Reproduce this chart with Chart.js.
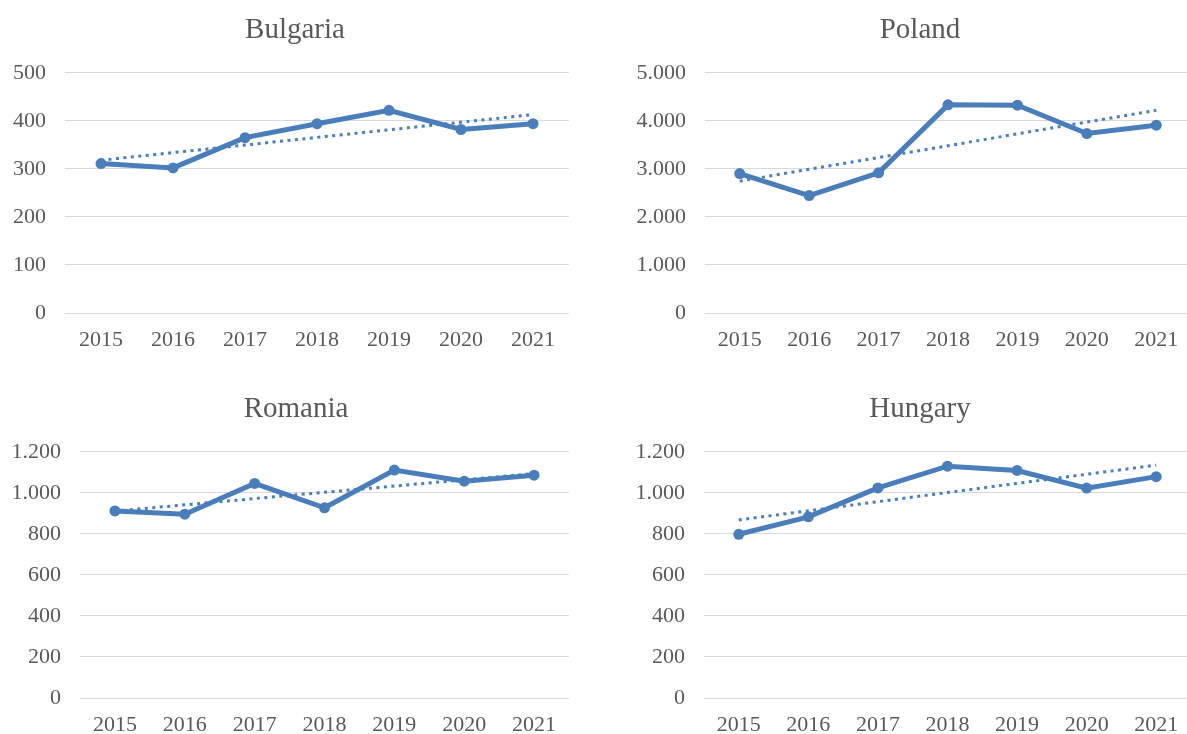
<!DOCTYPE html>
<html>
<head>
<meta charset="utf-8">
<title>Bulgaria, Poland, Romania, Hungary 2015-2021</title>
<script src="https://cdn.jsdelivr.net/npm/chart.js@4/dist/chart.umd.min.js"></script>
<style>
  html, body { margin: 0; padding: 0; background: #fff; overflow: hidden; }
  body { width: 1187px; height: 734px; position: relative; }
  .panel { position: absolute; }
</style>
</head>
<body>
<div class="panel" style="left:0;top:0;width:593px;height:367px"><canvas id="chart-bg"></canvas></div>
<div class="panel" style="left:593px;top:0;width:615px;height:367px"><canvas id="chart-pl"></canvas></div>
<div class="panel" style="left:0;top:367px;width:593px;height:367px"><canvas id="chart-ro"></canvas></div>
<div class="panel" style="left:593px;top:367px;width:615px;height:367px"><canvas id="chart-hu"></canvas></div>
<script>
// ---- data ----
const years = ['2015', '2016', '2017', '2018', '2019', '2020', '2021'];

const bulgaria = [311, 302, 365, 394, 422, 382, 394];
const poland   = [2903, 2444, 2917, 4333, 4326, 3736, 3910];
const romania  = [912, 896, 1046, 927, 1111, 1057, 1086];
const hungary  = [798, 883, 1024, 1130, 1109, 1023, 1079];

// dotted trend lines: value at first and last year
const bulgariaTrend = [318, 413];
const polandTrend   = [2745, 4220];
const romaniaTrend  = [911, 1094];
const hungaryTrend  = [868, 1135];

// y axis ranges: min, max, step
const bulgariaAxis = [0, 500, 100];
const polandAxis   = [0, 5000, 1000];
const romaniaAxis  = [0, 1200, 200];
const hungaryAxis  = [0, 1200, 200];

(function() {
  'use strict';

  const blue = '#4a7ebb';
  const textGray = '#595959';
  const gridGray = '#d9d9d9';
  const serif = "'Liberation Serif', 'Times New Roman', serif";

  // thousands with a dot, like the source (1.200, 5.000)
  function fmt(v) {
    return String(v).replace(/\B(?=(\d{3})+(?!\d))/g, '.');
  }

  function trendSeries(ends) {
    return years.map((_, i) => i === 0 ? ends[0] : (i === years.length - 1 ? ends[1] : null));
  }

  function makeChart(id, title, values, trend, axis, box) {
    new Chart(document.getElementById(id), {
      type: 'line',
      data: {
        labels: years,
        datasets: [
          {
            label: title + ' trend',
            data: trendSeries(trend),
            spanGaps: true,
            borderColor: blue,
            borderWidth: 3,
            borderDash: [3, 4.5],
            pointRadius: 0,
            pointHoverRadius: 0,
            fill: false,
            order: 0
          },
          {
            label: title,
            data: values,
            borderColor: blue,
            backgroundColor: blue,
            borderWidth: 5,
            tension: 0,
            pointRadius: 5.5,
            pointBorderWidth: 0,
            pointBackgroundColor: blue,
            fill: false,
            order: 1
          }
        ]
      },
      options: {
        responsive: true,
        maintainAspectRatio: false,
        animation: false,
        layout: { padding: { left: box.padLeft, right: box.padRight, top: 0, bottom: 0 } },
        plugins: {
          legend: { display: false },
          tooltip: { enabled: false },
          title: {
            display: true,
            text: title,
            color: textGray,
            font: { family: serif, size: 29, weight: 'normal', lineHeight: 1.2 },
            padding: { top: box.titleTop, bottom: box.titleBottom }
          }
        },
        scales: {
          x: {
            offset: true,
            grid: { display: false, drawTicks: false },
            border: { display: false },
            ticks: { color: textGray, font: { family: serif, size: 22 }, padding: 14, maxRotation: 0 },
            afterFit: s => { s.height = box.xHeight; }
          },
          y: {
            min: axis[0],
            max: axis[1],
            grid: { color: gridGray, lineWidth: 1, drawTicks: false },
            border: { display: false },
            ticks: {
              stepSize: axis[2],
              color: textGray,
              font: { family: serif, size: 22 },
              padding: 19,
              callback: v => fmt(v)
            },
            afterFit: s => { s.width = box.yWidth; }
          },
          // empty spacer on the right so the title sits where it does in the source
          spacer: {
            type: 'linear',
            position: 'right',
            min: 0,
            max: 1,
            grid: { display: false, drawTicks: false },
            border: { display: false },
            ticks: { display: false },
            afterFit: s => { s.width = box.spacer; }
          }
        }
      }
    });
  }

  function init() {
    const topRow = { titleTop: 13, titleBottom: 25, xHeight: 54 };
    const bottomRow = { titleTop: 25, titleBottom: 25, xHeight: 36 };

    makeChart('chart-bg', 'Bulgaria', bulgaria, bulgariaTrend, bulgariaAxis,
      Object.assign({ padLeft: 8, yWidth: 57, spacer: 13, padRight: 11 }, topRow));
    makeChart('chart-pl', 'Poland', poland, polandTrend, polandAxis,
      Object.assign({ padLeft: 39, yWidth: 73, spacer: 17, padRight: 0 }, topRow));
    makeChart('chart-ro', 'Romania', romania, romaniaTrend, romaniaAxis,
      Object.assign({ padLeft: 8, yWidth: 72, spacer: 15, padRight: 9 }, bottomRow));
    makeChart('chart-hu', 'Hungary', hungary, hungaryTrend, hungaryAxis,
      Object.assign({ padLeft: 39, yWidth: 72, spacer: 17, padRight: 0 }, bottomRow));
  }

  if (typeof Chart !== 'undefined') init();
  else window.addEventListener('load', init);
})();
</script>
</body>
</html>
